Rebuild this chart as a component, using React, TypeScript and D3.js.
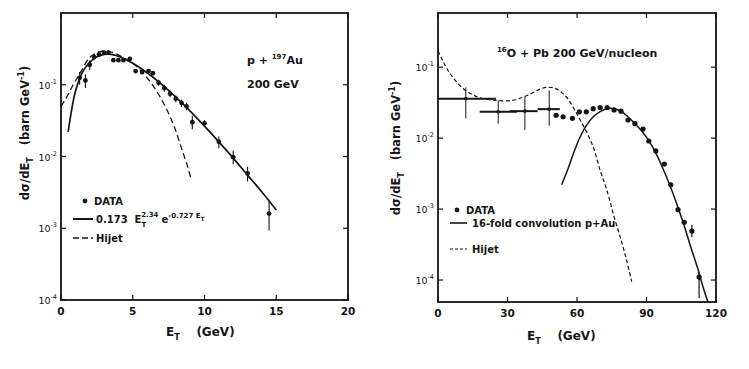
import React from 'react';
import * as d3 from 'd3';

const W = 749;
const H = 369;
const FONT = '"DejaVu Sans", "Liberation Sans", sans-serif';
const INK = '#151515';
const S = '\u00a0';

// ---- p + Au panel ----
const pAuTicksX = [0, 5, 10, 15, 20];
const pAuTicksY = [1e-1, 1e-2, 1e-3, 1e-4];
const pAuDomainX = [0, 20];
const pAuDomainY = [1e-4, 1];
// [E_T, value, lower, upper]
const pAuData = [
  [1.3, 0.125, 0.1, 0.15], [1.7, 0.115, 0.09, 0.14], [2.0, 0.19, 0.16, 0.22],
  [2.3, 0.245, 0.22, 0.27], [2.65, 0.265, 0.245, 0.285], [3.0, 0.28, 0.26, 0.3],
  [3.3, 0.28, 0.26, 0.3], [3.65, 0.22, 0.21, 0.23], [4.0, 0.22, 0.21, 0.23],
  [4.35, 0.22, 0.21, 0.23], [4.8, 0.23, 0.215, 0.245], [5.2, 0.155, 0.145, 0.165],
  [5.65, 0.15, 0.14, 0.16], [6.1, 0.155, 0.145, 0.165], [6.4, 0.145, 0.135, 0.155],
  [6.8, 0.107, 0.097, 0.117], [7.2, 0.09, 0.08, 0.1], [7.6, 0.075, 0.067, 0.083],
  [8.0, 0.064, 0.057, 0.071], [8.4, 0.056, 0.049, 0.062], [8.75, 0.05, 0.044, 0.056],
  [9.15, 0.03, 0.024, 0.037], [10, 0.029, 0.026, 0.032], [11, 0.016, 0.013, 0.019],
  [12, 0.0098, 0.0078, 0.012], [13, 0.0058, 0.0045, 0.0072], [14.5, 0.0016, 0.00093, 0.0025],
];
const pAuFit = [
  [0.5, 0.022], [1, 0.08], [1.5, 0.15], [2, 0.205], [2.5, 0.245], [3, 0.265],
  [3.5, 0.265], [4, 0.25], [5, 0.2], [6, 0.147], [7, 0.102], [8, 0.067],
  [9, 0.043], [10, 0.0265], [11, 0.016], [12, 0.0095], [13, 0.0055],
  [14, 0.0032], [15, 0.0018],
];
const pAuHijet = [
  [0, 0.05], [0.3, 0.062], [0.85, 0.1], [1.45, 0.16], [2.0, 0.24], [2.7, 0.29],
  [3.4, 0.29], [4.25, 0.245], [5.0, 0.2], [6.0, 0.125], [6.9, 0.068],
  [7.8, 0.029], [8.4, 0.013], [8.8, 0.0075], [9.05, 0.005],
];

// ---- O + Pb panel ----
const oPbTicksX = [0, 30, 60, 90, 120];
const oPbTicksY = [1e-1, 1e-2, 1e-3, 1e-4];
const oPbDomainX = [0, 120];
const oPbDomainY = [4.9e-5, 0.58];
const oPbBins = [
  { e: 12, v: 0.036, x0: 0, x1: 25, lo: 0.019, hi: 0.052 },
  { e: 26, v: 0.0235, x0: 18, x1: 34, lo: 0.016, hi: 0.034 },
  { e: 37.5, v: 0.024, x0: 31, x1: 43, lo: 0.013, hi: 0.038 },
  { e: 48, v: 0.0256, x0: 43, x1: 52.6, lo: 0.015, hi: 0.047 },
];
const oPbData = [
  [51, 0.021, 0.021, 0.021], [54, 0.02, 0.02, 0.02], [58, 0.019, 0.019, 0.019],
  [61, 0.0235, 0.0235, 0.0235], [64, 0.0235, 0.0235, 0.0235], [67, 0.026, 0.026, 0.026],
  [70, 0.027, 0.027, 0.027], [73, 0.027, 0.027, 0.027], [76, 0.025, 0.025, 0.025],
  [79, 0.024, 0.024, 0.024], [82, 0.018, 0.018, 0.018], [85, 0.016, 0.016, 0.016],
  [88.5, 0.0134, 0.0134, 0.0134], [91, 0.0091, 0.0091, 0.0091], [94, 0.0066, 0.0066, 0.0066],
  [97.7, 0.0043, 0.0043, 0.0043], [100.5, 0.0022, 0.0022, 0.0022],
  [103.6, 0.00098, 0.00098, 0.00098], [106.3, 0.00065, 0.00065, 0.00065],
  [109.6, 0.00049, 0.0004, 0.0006], [112.7, 0.00011, 0.000056, 0.00013],
];
const oPbConv = [
  [53.4, 0.0022], [56, 0.0036], [58.4, 0.006], [61, 0.0098], [64, 0.015],
  [67, 0.02], [70, 0.0237], [73, 0.026], [76, 0.026], [79, 0.024], [82, 0.02],
  [85, 0.016], [88, 0.0125], [91, 0.0092], [94, 0.0062], [97, 0.0038],
  [100, 0.0022], [103, 0.0012], [106, 0.00062], [109, 0.0003], [112, 0.00015],
  [114.5, 0.000078], [116.5, 0.000049],
];
const oPbHijet = [
  [0, 0.17], [2, 0.125], [4.3, 0.09], [7, 0.068], [10.8, 0.05], [15, 0.041],
  [18, 0.037], [25, 0.034], [32, 0.034], [36, 0.037], [40, 0.042], [44, 0.049],
  [47, 0.052], [50, 0.051], [53, 0.045], [56, 0.036], [58.4, 0.027], [61, 0.019],
  [64, 0.0125], [67, 0.0075], [70, 0.0035], [73, 0.0018], [76, 0.00078],
  [79, 0.00037], [81.4, 0.00019], [83.6, 0.000095],
];

const expLabel = (v: number) => String(Math.round(Math.log10(v)));
const sp = (s: string) => s.replace(/ /g, S);

const Panel = ({ box, domainX, domainY, ticksX, ticksY, children }: any) => {
  const x = d3.scaleLinear().domain(domainX).range([box.left, box.right]);
  const y = d3.scaleLog().domain(domainY).range([box.bottom, box.top]);
  const tk = 5;
  return (
    <g>
      <rect
        x={box.left}
        y={box.top}
        width={box.right - box.left}
        height={box.bottom - box.top}
        fill="none"
        stroke={INK}
        strokeWidth={1.8}
      />
      {ticksX.map((t: number) => (
        <g key={`x-${t}`}>
          <line x1={x(t)} x2={x(t)} y1={box.bottom} y2={box.bottom - tk} stroke={INK} strokeWidth={1.2} />
          <line x1={x(t)} x2={x(t)} y1={box.top} y2={box.top + tk} stroke={INK} strokeWidth={1.2} />
          <text x={x(t)} y={box.bottom + 15} textAnchor="middle" fontSize={10.5} fontWeight="bold" fill={INK}>
            {t}
          </text>
        </g>
      ))}
      {ticksY.map((t: number) => (
        <g key={`y-${t}`}>
          <line x1={box.left} x2={box.left + tk} y1={y(t)} y2={y(t)} stroke={INK} strokeWidth={1.2} />
          <line x1={box.right} x2={box.right - tk} y1={y(t)} y2={y(t)} stroke={INK} strokeWidth={1.2} />
          <text x={box.left - 4} y={y(t) + 4} textAnchor="end" fontSize={9.5} fill={INK}>
            10
            <tspan dy={-5} fontSize={6.5}>{expLabel(t)}</tspan>
          </text>
        </g>
      ))}
      {children(x, y)}
    </g>
  );
};

const makeLine = (x: any, y: any) =>
  d3.line<number[]>()
    .x(d => x(d[0]))
    .y(d => y(d[1]))
    .curve(d3.curveCatmullRom.alpha(0.5));

const YLabel = ({ cx, cy }: { cx: number; cy: number }) => (
  <text
    transform={`translate(${cx}, ${cy}) rotate(-90)`}
    textAnchor="middle"
    fontSize={11.5}
    fontWeight="bold"
    fill={INK}
  >
    dσ/dE<tspan dy={4} fontSize={8}>T</tspan>
    <tspan dy={-4}>{sp('   (barn GeV')}</tspan>
    <tspan dy={-5} fontSize={8}>-1</tspan>
    <tspan dy={5}>)</tspan>
  </text>
);

const XLabel = ({ x0, y0 }: { x0: number; y0: number }) => (
  <text x={x0} y={y0} fontSize={12} fontWeight="bold" fill={INK}>
    E<tspan dy={4} fontSize={8}>T</tspan>
    <tspan dy={-4}>{sp('    (GeV)')}</tspan>
  </text>
);

const App = () => {
  const left = { left: 61, right: 348, top: 13, bottom: 300 };
  const right = { left: 438, right: 716, top: 13, bottom: 302 };

  return (
    <svg
      width={W}
      height={H}
      viewBox={`0 0 ${W} ${H}`}
      style={{ position: 'absolute', left: 0, top: 0, background: '#fff', fontFamily: FONT }}
    >
      <rect width={W} height={H} fill="#fff" />

      {/* p + Au */}
      <Panel box={left} domainX={pAuDomainX} domainY={pAuDomainY} ticksX={pAuTicksX} ticksY={pAuTicksY}>
        {(x: any, y: any) => {
          const line = makeLine(x, y);
          return (
            <g>
              <path d={line(pAuHijet as any) || ''} fill="none" stroke={INK} strokeWidth={1.3} strokeDasharray="6,3.5" />
              <path d={line(pAuFit as any) || ''} fill="none" stroke={INK} strokeWidth={1.7} />
              {pAuData.map((d, i) => (
                <g key={i}>
                  <line x1={x(d[0])} x2={x(d[0])} y1={y(d[2])} y2={y(d[3])} stroke={INK} strokeWidth={1.1} />
                  <circle cx={x(d[0])} cy={y(d[1])} r={2.4} fill={INK} />
                </g>
              ))}
              <text x={247} y={64} fontSize={11} fontWeight="bold" fill={INK}>
                {sp('p + ')}<tspan dy={-5} fontSize={7}>197</tspan><tspan dy={5}>Au</tspan>
              </text>
              <text x={247} y={88} fontSize={11} fontWeight="bold" fill={INK}>{sp('200 GeV')}</text>

              {/* legend */}
              <circle cx={85} cy={201} r={2.4} fill={INK} />
              <text x={94} y={205} fontSize={10} fontWeight="bold" fill={INK}>DATA</text>
              <line x1={73} x2={93} y1={219} y2={219} stroke={INK} strokeWidth={2} />
              <text x={96} y={223} fontSize={10} fontWeight="bold" fill={INK}>
                {sp('0.173  E')}<tspan dy={4} fontSize={7}>T</tspan>
                <tspan dx={-5} dy={-10} fontSize={7}>2.34</tspan>
                <tspan dy={6} dx={3}>e</tspan>
                <tspan dy={-5} fontSize={7}>{sp('-0.727 E')}</tspan>
                <tspan dy={3} fontSize={6}>T</tspan>
              </text>
              <line x1={73} x2={93} y1={238} y2={238} stroke={INK} strokeWidth={1.4} strokeDasharray="6,3" />
              <text x={96} y={242} fontSize={10} fontWeight="bold" fill={INK}>Hijet</text>
            </g>
          );
        }}
      </Panel>
      <YLabel cx={29} cy={133} />
      <XLabel x0={166} y0={336} />

      {/* O + Pb */}
      <Panel box={right} domainX={oPbDomainX} domainY={oPbDomainY} ticksX={oPbTicksX} ticksY={oPbTicksY}>
        {(x: any, y: any) => {
          const line = makeLine(x, y);
          return (
            <g>
              <path d={line(oPbHijet as any) || ''} fill="none" stroke={INK} strokeWidth={1.2} strokeDasharray="4,2.5" />
              <path d={line(oPbConv as any) || ''} fill="none" stroke={INK} strokeWidth={1.5} />
              {oPbBins.map((b, i) => (
                <g key={i}>
                  <line x1={x(b.x0)} x2={x(b.x1)} y1={y(b.v)} y2={y(b.v)} stroke={INK} strokeWidth={2} />
                  <line x1={x(b.e)} x2={x(b.e)} y1={y(b.lo)} y2={y(b.hi)} stroke={INK} strokeWidth={1} />
                  <circle cx={x(b.e)} cy={y(b.v)} r={1.8} fill={INK} />
                </g>
              ))}
              {oPbData.map((d, i) => (
                <g key={i}>
                  <line x1={x(d[0])} x2={x(d[0])} y1={y(d[2])} y2={y(d[3])} stroke={INK} strokeWidth={1.2} />
                  <circle cx={x(d[0])} cy={y(d[1])} r={2.6} fill={INK} />
                </g>
              ))}
              <text x={497} y={57} fontSize={11} fontWeight="bold" fill={INK}>
                <tspan dy={-5} fontSize={7}>16</tspan><tspan dy={5}>{sp('O + Pb 200 GeV/nucleon')}</tspan>
              </text>

              {/* legend */}
              <circle cx={457} cy={210} r={2.4} fill={INK} />
              <text x={466} y={214} fontSize={10} fontWeight="bold" fill={INK}>DATA</text>
              <line x1={450} x2={467} y1={223} y2={223} stroke={INK} strokeWidth={1.6} />
              <text x={472} y={227} fontSize={10} fontWeight="bold" fill={INK}>{sp('16-fold convolution p+Au')}</text>
              <line x1={450} x2={467} y1={249} y2={249} stroke={INK} strokeWidth={1.2} strokeDasharray="3,2" />
              <text x={472} y={253} fontSize={10} fontWeight="bold" fill={INK}>Hijet</text>
            </g>
          );
        }}
      </Panel>
      <YLabel cx={400} cy={148} />
      <XLabel x0={527} y0={340} />
    </svg>
  );
};

export default App;
